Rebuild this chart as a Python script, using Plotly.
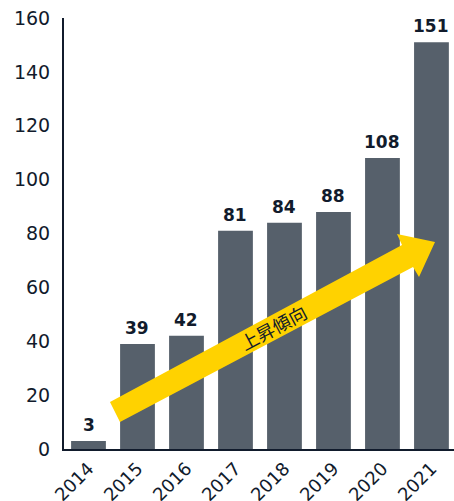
import plotly.graph_objects as go

years = ["2014", "2015", "2016", "2017", "2018", "2019", "2020", "2021"]
values = [3, 39, 42, 81, 84, 88, 108, 151]
y_ticks = [0, 20, 40, 60, 80, 100, 120, 140, 160]
arrow_label = "上昇傾向"

W, H = 454, 501
L, R, T, B = 64, 0, 18, 52
pw, ph = W - L - R, H - T - B

def P(px, py):
    return (px - L) / pw, (H - B - py) / ph

arrow_px = [(110, 402), (402, 245), (397, 234), (435, 242), (419, 277), (413, 267), (120, 422)]
pts = [P(x, y) for x, y in arrow_px]
path = "M " + " L ".join(f"{x:.4f},{y:.4f}" for x, y in pts) + " Z"

dark = "#111b2c"
fig = go.Figure(go.Bar(
    x=years, y=values,
    marker=dict(color="#56606b", line=dict(width=0)),
    width=0.71, hoverinfo="skip",
))
for i, v in enumerate(values):
    fig.add_annotation(x=i, y=v, xref="x", yref="y", text=str(v), showarrow=False,
                       xanchor="center", yanchor="bottom", yshift=4,
                       font=dict(family="DejaVu Sans", size=17, color=dark, weight="bold"))

fig.update_layout(
    width=W, height=H,
    margin=dict(l=L, r=R, t=T, b=B, autoexpand=False),
    paper_bgcolor="white", plot_bgcolor="white",
    showlegend=False,
    font=dict(family="DejaVu Sans", color=dark, size=17),
    xaxis=dict(type="category", range=[-0.5, 7.46], showgrid=False, tickangle=-45,
               automargin=False,
               showline=True, linecolor=dark, linewidth=2, ticks="",
               tickfont=dict(size=18, color=dark)),
    yaxis=dict(range=[0, 160], tickvals=y_ticks, showgrid=False, zeroline=False,
               automargin=False,
               showline=True, linecolor=dark, linewidth=2, ticks="",
               ticklabelstandoff=8, tickfont=dict(size=19, color=dark)),
    shapes=[dict(type="path", xref="paper", yref="paper", path=path,
                 fillcolor="#ffd200", line=dict(width=0), layer="above")],
)
cx, cy = P(273, 327)
fig.add_annotation(x=cx, y=cy, xref="paper", yref="paper", text=arrow_label,
                   showarrow=False, textangle=-28, xanchor="center", yanchor="middle",
                   font=dict(family="Noto Sans CJK JP", size=18, color=dark))

fig.write_html("out.html", config={"displayModeBar": False},
               post_script="document.body.style.margin='0';document.body.style.overflow='hidden';")
